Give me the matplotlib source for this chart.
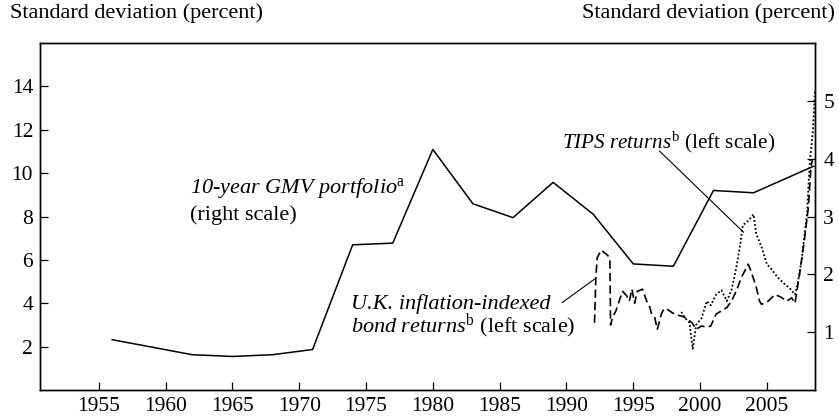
import matplotlib
matplotlib.use("Agg")
import matplotlib.pyplot as plt

plt.rcParams['font.family'] = ['Liberation Serif', 'DejaVu Serif']
plt.rcParams['mathtext.fontset'] = 'custom'
plt.rcParams['mathtext.rm'] = 'Liberation Serif'
plt.rcParams['mathtext.it'] = 'Liberation Serif:italic'

# 10-year GMV portfolio, right scale
gmv_years = [1956, 1959, 1962, 1965, 1968, 1971, 1974, 1977, 1980, 1983,
             1986, 1989, 1992, 1995, 1998, 2001, 2004, 2008.5]
gmv_vals = [0.87, 0.74, 0.61, 0.58, 0.61, 0.70, 2.51, 2.54, 4.16, 3.22,
            2.98, 3.59, 3.04, 2.18, 2.14, 3.45, 3.41, 3.87]

# TIPS returns, left scale
tips_years = [1998.6, 1998.9, 1999.2, 1999.45, 1999.7, 2000.1, 2000.5, 2000.8,
              2001.2, 2001.6, 2002.0, 2002.35, 2002.7, 2003.0, 2003.2, 2003.6,
              2004.0, 2004.2, 2004.6, 2005.0, 2005.3, 2005.8, 2006.3, 2006.7,
              2007.1, 2007.3, 2007.6, 2008.0, 2008.2, 2008.45, 2008.6]
tips_vals = [3.6, 3.3, 3.1, 1.9, 3.0, 3.3, 4.1, 3.9,
             4.4, 4.6, 4.1, 4.6, 5.6, 6.7, 7.6, 7.8,
             8.1, 7.2, 6.6, 5.8, 5.6, 5.2, 4.9, 4.7,
             4.4, 4.9, 6.0, 8.1, 10.4, 12.0, 13.8]

# U.K. inflation-indexed bond returns, left scale
uk_years = [1992.1, 1992.2, 1992.3, 1992.6, 1993.1, 1993.25, 1993.3, 1993.45,
            1993.7, 1994.0, 1994.2, 1994.5, 1994.7, 1994.9, 1995.1, 1995.3,
            1995.7, 1996.0, 1996.2, 1996.35, 1996.6, 1996.8, 1997.1, 1997.3,
            1997.6, 1997.95, 1998.3, 1998.7, 1999.1, 1999.4, 1999.7, 2000.1,
            2000.5, 2000.8, 2001.2, 2001.6, 2002.0, 2002.35, 2002.7, 2003.1,
            2003.6, 2003.8, 2004.2, 2004.45, 2004.6, 2005.1, 2005.6, 2006.0,
            2006.5, 2006.85, 2007.1, 2007.45, 2007.8, 2008.1, 2008.3, 2008.4]
uk_vals = [3.1, 5.2, 6.1, 6.45, 6.2, 5.95, 3.0, 3.35,
           3.65, 4.2, 4.55, 4.35, 4.1, 4.65, 4.0, 4.55,
           4.65, 4.1, 3.9, 3.55, 3.35, 2.8, 3.5, 3.75,
           3.7, 3.55, 3.45, 3.4, 3.25, 3.1, 2.8, 2.95,
           2.9, 2.95, 3.5, 3.65, 3.8, 4.1, 4.55, 5.2,
           5.8, 5.5, 4.75, 4.1, 3.95, 4.1, 4.4, 4.3,
           4.1, 4.25, 4.0, 5.35, 6.9, 8.4, 10.3, 10.6]

left_ticks = [2, 4, 6, 8, 10, 12, 14]
right_ticks = [1, 2, 3, 4, 5]
year_ticks = [1955, 1960, 1965, 1970, 1975, 1980, 1985, 1990, 1995, 2000, 2005]

fs = 16
tfs = 15.5
fig = plt.figure(figsize=(8.39, 4.2), dpi=100)
ax = fig.add_axes([40 / 839, 30 / 420, 775 / 839, 347 / 420])
ax2 = ax.twinx()

ax.plot(uk_years, uk_vals, color='black', lw=1.2, linestyle=(0, (5, 2.5)))
ax.plot(tips_years, tips_vals, color='black', lw=1.3, linestyle=(0, (1, 1.2)))
ax2.plot(gmv_years, gmv_vals, color='black', lw=1.1)

ax.set_xlim(1950.6, 2008.6)
ax.set_ylim(0, 16)
ax2.set_ylim(0, 6)
ax.set_xticks(year_ticks)
ax.set_yticks(left_ticks)
ax2.set_yticks(right_ticks)
ax.tick_params(direction='in', length=6, width=0.9, labelsize=tfs, pad=5)
ax2.tick_params(direction='in', length=6, width=0.9, labelsize=tfs, pad=6)
for a in (ax, ax2):
    for s in a.spines.values():
        s.set_linewidth(1.0)

# labels
ax.text(1961.8, 9.07, '10-year GMV portfolio$^{\\mathrm{a}}$', fontsize=fs,
        style='italic', va='baseline')
ax.text(1961.8, 7.82, '(right scale)', fontsize=fs, va='baseline')
ax.text(1989.7, 11.16, '$\\mathit{TIPS\\ returns}^{\\mathrm{b}}$ (left scale)',
        fontsize=15.2, va='baseline')
ax.text(1973.9, 3.75, 'U.K. inflation-indexed', fontsize=fs, style='italic',
        va='baseline')
ax.text(1973.9, 2.64, '$\\mathit{bond\\ returns}^{\\mathrm{b}}$ (left scale)',
        fontsize=fs, va='baseline')

ax.annotate('', xy=(2003.26, 7.27), xytext=(1996.96, 11.02),
            arrowprops=dict(arrowstyle='-', lw=0.8, color='black',
                            shrinkA=0, shrinkB=0))
ax.annotate('', xy=(1992.16, 5.14), xytext=(1989.68, 4.03),
            arrowprops=dict(arrowstyle='-', lw=0.8, color='black',
                            shrinkA=0, shrinkB=0))

fig.text(10 / 839, 1 - 13 / 420, 'Standard deviation (percent)', fontsize=fs,
         va='center', ha='left')
fig.text(835 / 839, 1 - 13 / 420, 'Standard deviation (percent)', fontsize=fs,
         va='center', ha='right')

fig.savefig('out.png', dpi=100)
